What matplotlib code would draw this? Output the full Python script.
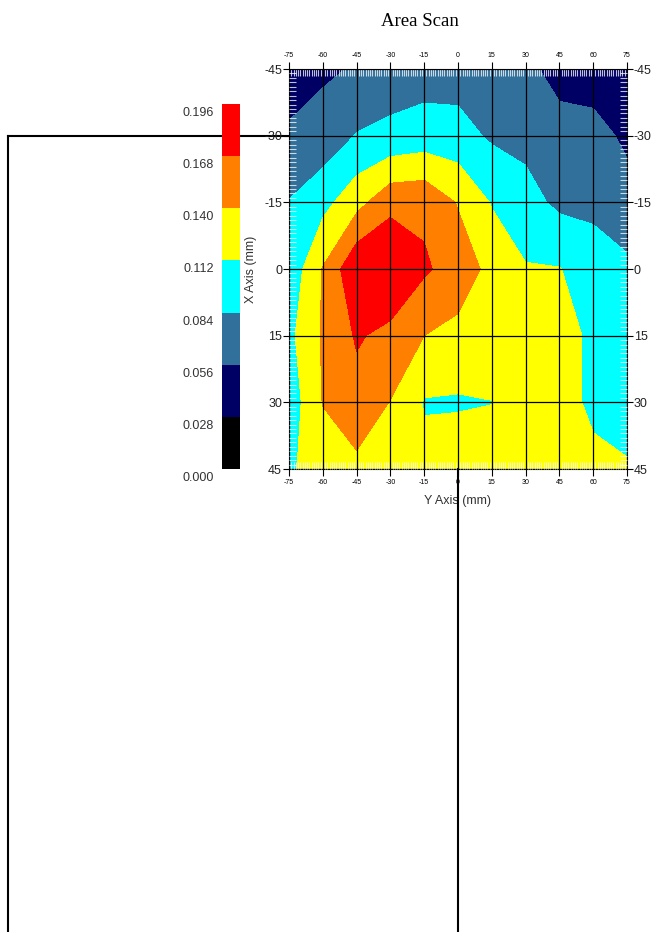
import numpy as np
import matplotlib
matplotlib.use("Agg")
import matplotlib.pyplot as plt
from matplotlib.lines import Line2D
from matplotlib.ticker import MultipleLocator, FixedLocator
import matplotlib.transforms as mtransforms

plt.rcParams['font.family'] = ['Liberation Sans', 'DejaVu Sans']

# ---------------- data ----------------
title = "Area Scan"
x_mm = [-75, -60, -45, -30, -15, 0, 15, 30, 45, 60, 75]          # "Y Axis"
y_mm = [-45, -30, -15, 0, 15, 30, 45]                             # "X Axis"
row_m45 = [0.035, 0.052, 0.058, 0.070, 0.072, 0.072, 0.068, 0.068, 0.038, 0.035, 0.030]
row_m30 = [0.062, 0.066, 0.0854, 0.090, 0.0955, 0.0938, 0.080, 0.076, 0.075, 0.0706, 0.048]
row_m15 = [0.085, 0.103, 0.130, 0.160, 0.162, 0.138, 0.110, 0.094, 0.078, 0.077, 0.072]
row_0 = [0.092, 0.1415, 0.192, 0.195, 0.172, 0.155, 0.132, 0.114, 0.113, 0.098, 0.0878]
row_p15 = [0.105, 0.143, 0.171, 0.160, 0.140, 0.1325, 0.128, 0.125, 0.122, 0.107, 0.095]
row_p30 = [0.0956, 0.141, 0.158, 0.139, 0.110, 0.109, 0.1115, 0.118, 0.122, 0.107, 0.100]
row_p45 = [0.108, 0.125, 0.133, 0.130, 0.120, 0.129, 0.125, 0.125, 0.125, 0.118, 0.1146]
levels = [0.000, 0.028, 0.056, 0.084, 0.112, 0.140, 0.168, 0.196]
level_labels = ["0.000", "0.028", "0.056", "0.084", "0.112", "0.140", "0.168", "0.196"]
level_colors = ["#000000", "#000064", "#31709A", "#00FFFF", "#FFFF00", "#FF8000", "#FF0000"]
x_ticks = [-75, -60, -45, -30, -15, 0, 15, 30, 45, 60, 75]
y_ticks = [-45, -30, -15, 0, 15, 30, 45]
cursor_x = 0      # vertical cursor line position (mm)
cursor_y = -30    # horizontal cursor line position (mm)

Z = np.array([row_m45, row_m30, row_m15, row_0, row_p15, row_p30, row_p45])

# ---------------- figure ----------------
W, H = 655, 932
fig = plt.figure(figsize=(W / 100, H / 100), dpi=100)

def fbox(x0, y0, x1, y1):
    return [x0 / W, 1 - y1 / H, (x1 - x0) / W, (y1 - y0) / H]

ax = fig.add_axes(fbox(289, 69, 627, 469))
ax.contourf(x_mm, y_mm, Z, levels=levels, colors=level_colors, zorder=0)
ax.set_xlim(x_ticks[0], x_ticks[-1])
ax.set_ylim(y_ticks[-1], y_ticks[0])

ax.xaxis.set_major_locator(FixedLocator(x_ticks))
ax.yaxis.set_major_locator(FixedLocator(y_ticks))
ax.xaxis.set_minor_locator(MultipleLocator(1))
ax.yaxis.set_minor_locator(MultipleLocator(1))
ax.set_xticklabels([str(v) for v in x_ticks])
ax.set_yticklabels([str(v) for v in y_ticks])
ax.grid(True, which='major', color='black', linewidth=0.9)
ax.set_axisbelow(False)

ax.tick_params(which='major', direction='out', top=True, bottom=True, left=True, right=True,
               labeltop=True, labelbottom=True, labelleft=True, labelright=True,
               length=4, width=0.8, color='black', pad=1)
ax.tick_params(axis='x', which='major', labelsize=5, length=5, pad=2)
ax.tick_params(axis='y', which='major', labelsize=9, labelcolor='#222222')
ax.tick_params(which='minor', direction='in', top=True, bottom=True, left=True, right=True,
               length=5, width=0.8, color=(1, 1, 1, 0.75))
for sp in ax.spines.values():
    sp.set_color('black')
    sp.set_linewidth(0.8)

ax.set_xlabel("Y Axis (mm)", fontsize=9, color='#333333')
ax.xaxis.set_label_coords(0.5, -0.08)
ax.xaxis.label.set_verticalalignment('center')
ax.set_ylabel("X Axis (mm)", fontsize=9, color='#333333')
ax.yaxis.set_label_coords(-0.1124, 0.5)
ax.yaxis.label.set_verticalalignment('center')

# ---------------- colour bar ----------------
cax = fig.add_axes(fbox(222, 104, 240, 469))
for i, c in enumerate(level_colors):
    cax.bar(0.5, levels[i + 1] - levels[i], bottom=levels[i], width=1.0, color=c, linewidth=0)
cax.set_xlim(0, 1)
cax.set_ylim(levels[0], levels[-1])
cax.axis('off')
lab_tr = mtransforms.offset_copy(
    mtransforms.blended_transform_factory(cax.transAxes, cax.transData),
    fig=fig, x=-8, y=-9, units='dots')
for lv, lt in zip(levels, level_labels):
    cax.text(0, lv, lt, transform=lab_tr, ha='right', va='center', fontsize=9,
             color='#333333', clip_on=False)

# ---------------- title ----------------
fig.text(420 / W, 1 - 21 / H, title, ha='center', va='center', fontsize=13.5,
         family=['Liberation Serif', 'DejaVu Serif'])

# ---------------- cursor lines ----------------
to_fig = fig.transFigure.inverted()
corner = to_fig.transform(ax.transData.transform((x_ticks[0], cursor_y)))
left_x = 8 / W
fig.add_artist(Line2D([left_x, corner[0]], [corner[1], corner[1]], transform=fig.transFigure,
                      color='black', linewidth=1.5, zorder=-1))
fig.add_artist(Line2D([left_x, left_x], [corner[1], 0], transform=fig.transFigure,
                      color='black', linewidth=1.5, zorder=-1))
bot = to_fig.transform(ax.transData.transform((cursor_x, y_ticks[-1])))
fig.add_artist(Line2D([bot[0], bot[0]], [bot[1], 0], transform=fig.transFigure,
                      color='black', linewidth=1.5, zorder=5))

fig.savefig("out.png", dpi=100)
